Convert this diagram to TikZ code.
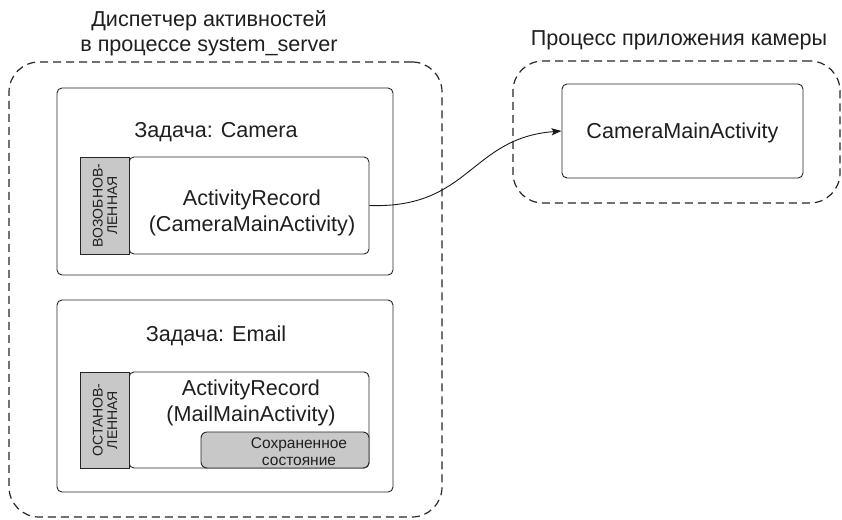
\documentclass[tikz,border=0pt]{standalone}
\usepackage{fontspec}
\setmainfont{Liberation Sans}
\usetikzlibrary{arrows.meta}
\definecolor{tabgray}{RGB}{200,200,200}
\tikzset{
  dashbox/.style={draw=black!85, line width=1.2pt, dash pattern=on 8pt off 5pt, rounded corners=30pt, inner sep=0pt},
  solidbox/.style={draw=black!85, line width=0.9pt, rounded corners=5pt, fill=white, inner sep=0pt},
  tabbox/.style={draw=black!85, line width=0.9pt, fill=tabgray, inner sep=0pt},
  savedbox/.style={draw=black!85, line width=0.9pt, rounded corners=6pt, fill=tabgray, inner sep=0pt},
  bigtxt/.style={font=\fontsize{21.6}{25.5}\selectfont, text=black!88, align=center, inner sep=0pt},
  tabtxt/.style={font=\fontsize{14}{14.5}\selectfont, text=black!88, align=center, inner sep=0pt, rotate=90},
  savedtxt/.style={font=\fontsize{15.5}{17}\selectfont, text=black!88, align=center, inner sep=0pt},
  conn/.style={draw=black!90, line width=0.9pt, -{Stealth[length=10pt,width=7pt,inset=2pt]}}
}
\begin{document}
\begin{tikzpicture}[x=1pt,y=-1pt]
\useasboundingbox (0,0) rectangle (842,519);
% containers
\node[dashbox, minimum width=433pt, minimum height=455pt] (sys) at (225.5,289.5) {};
\node[dashbox, minimum width=327pt, minimum height=142pt] (camproc) at (676.5,132) {};
\node[bigtxt] (systitle) at (209,33) {Диспетчер активностей\\в процессе system\_server};
\node[bigtxt] (camtitle) at (679,40) {Процесс приложения камеры};
% camera process activity
\node[solidbox, minimum width=241pt, minimum height=94pt] (camact) at (682.5,131) {};
\node[bigtxt] (camacttxt) at (682.5,133) {CameraMainActivity};
% task camera
\node[solidbox, minimum width=336pt, minimum height=187pt] (taskcam) at (225,181.5) {};
\node[bigtxt] (taskcamtxt) at (216,132) {Задача: Camera};
\node[solidbox, minimum width=240pt, minimum height=97pt] (rec1) at (249,205.5) {};
\node[tabbox, minimum width=49pt, minimum height=97pt] (tab1) at (104.5,205.5) {};
\node[tabtxt] (tab1txt) at (105,205.5) {ВОЗОБНОВ-\\ЛЕННАЯ};
\node[bigtxt] (rec1txt) at (252,213) {ActivityRecord\\(CameraMainActivity)};
% task email
\node[solidbox, minimum width=336pt, minimum height=192pt] (taskmail) at (225,396) {};
\node[bigtxt] (taskmailtxt) at (216,336) {Задача: Email};
\node[solidbox, minimum width=240pt, minimum height=96pt] (rec2) at (249,420) {};
\node[tabbox, minimum width=49pt, minimum height=96pt] (tab2) at (104.5,420) {};
\node[tabtxt] (tab2txt) at (105,420) {ОСТАНОВ-\\ЛЕННАЯ};
\node[bigtxt] (rec2txt) at (251,403) {ActivityRecord\\(MailMainActivity)};
\node[savedbox, minimum width=168pt, minimum height=36pt] (saved) at (285,450) {};
\node[savedtxt] (savedtxt) at (299,452) {Сохраненное\\состояние};
% connector
\draw[conn] (rec1.east) .. controls (470,209) and (470,138) .. (camact.west);
\end{tikzpicture}
\end{document}
